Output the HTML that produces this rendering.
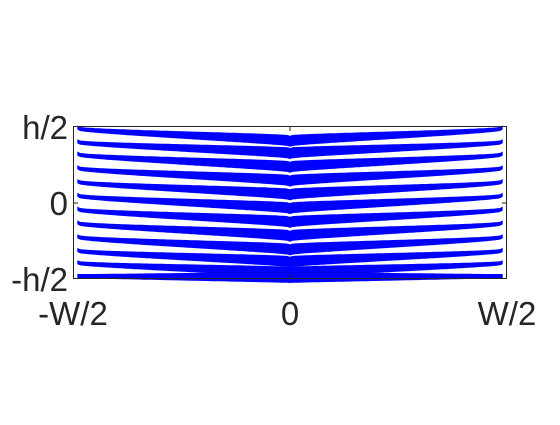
<!DOCTYPE html>
<html><head><meta charset="utf-8"><style>
body{margin:0;background:#fff;width:560px;height:420px;overflow:hidden}
text{font-family:"Liberation Sans",sans-serif;font-size:33px;fill:#262626}
</style></head><body>
<svg width="560" height="420">
<g id="marks"></g>
<rect x="73.5" y="126.5" width="433" height="152" fill="none" stroke="#262626" stroke-width="1"/>
<g id="ticks" stroke="#262626" stroke-width="1"></g>
<text x="68" y="139" text-anchor="end">h/2</text>
<text x="68" y="215" text-anchor="end">0</text>
<text x="68" y="291" text-anchor="end">-h/2</text>
<text x="73" y="325" text-anchor="middle">-W/2</text>
<text x="290" y="325" text-anchor="middle">0</text>
<text x="507" y="325" text-anchor="middle">W/2</text>
</svg>
<script>
const edgeLevels=[0.49,0.40,0.32,0.23,0.14,0.05,-0.04,-0.13,-0.22,-0.31,-0.39,-0.48];
const centerLevels=[0.40,0.32,0.23,0.14,0.05,-0.04,-0.13,-0.22,-0.31,-0.39,-0.46,-0.49];
const xL=73,xR=507,yT=126,yB=279;
const sx=v=>xL+(v+0.5)*(xR-xL);
const sy=v=>yB-(v+0.5)*(yB-yT);
const g=document.getElementById('marks');
const NS='http://www.w3.org/2000/svg';
function f(t){return 0.35*Math.pow(1-t,0.3)+0.45*(1-t)+0.2*(1-Math.pow(t,0.3));}
for(let i=0;i<edgeLevels.length;i++){
  for(const side of [-1,1]){
    const top=[],bot=[];
    for(let k=0;k<=80;k++){
      const t=k/80;
      const v=edgeLevels[i]+(centerLevels[i]-edgeLevels[i])*f(t);
      const x=sx(side*t*0.49);
      const y=sy(v);
      const w=4+7*(1-t);
      top.push([x,y-w/2]);bot.push([x,y+w/2]);
    }
    const pts=top.concat(bot.reverse()).map(p=>p[0].toFixed(1)+','+p[1].toFixed(1)).join(' ');
    const p=document.createElementNS(NS,'polygon');
    p.setAttribute('points',pts);
    p.setAttribute('fill','#0000ff');
    
    
    g.appendChild(p);
  }
}
const tk=document.getElementById('ticks');
[[73.5,279,73.5,274],[290,279,290,274],[506.5,279,506.5,274],[290,126,290,131],[73.5,203,78,203],[506.5,203,502,203]].forEach(a=>{
  const l=document.createElementNS(NS,'line');
  l.setAttribute('x1',a[0]);l.setAttribute('y1',a[1]);l.setAttribute('x2',a[2]);l.setAttribute('y2',a[3]);
  
  
  tk.appendChild(l);
});
</script>
</body></html>
